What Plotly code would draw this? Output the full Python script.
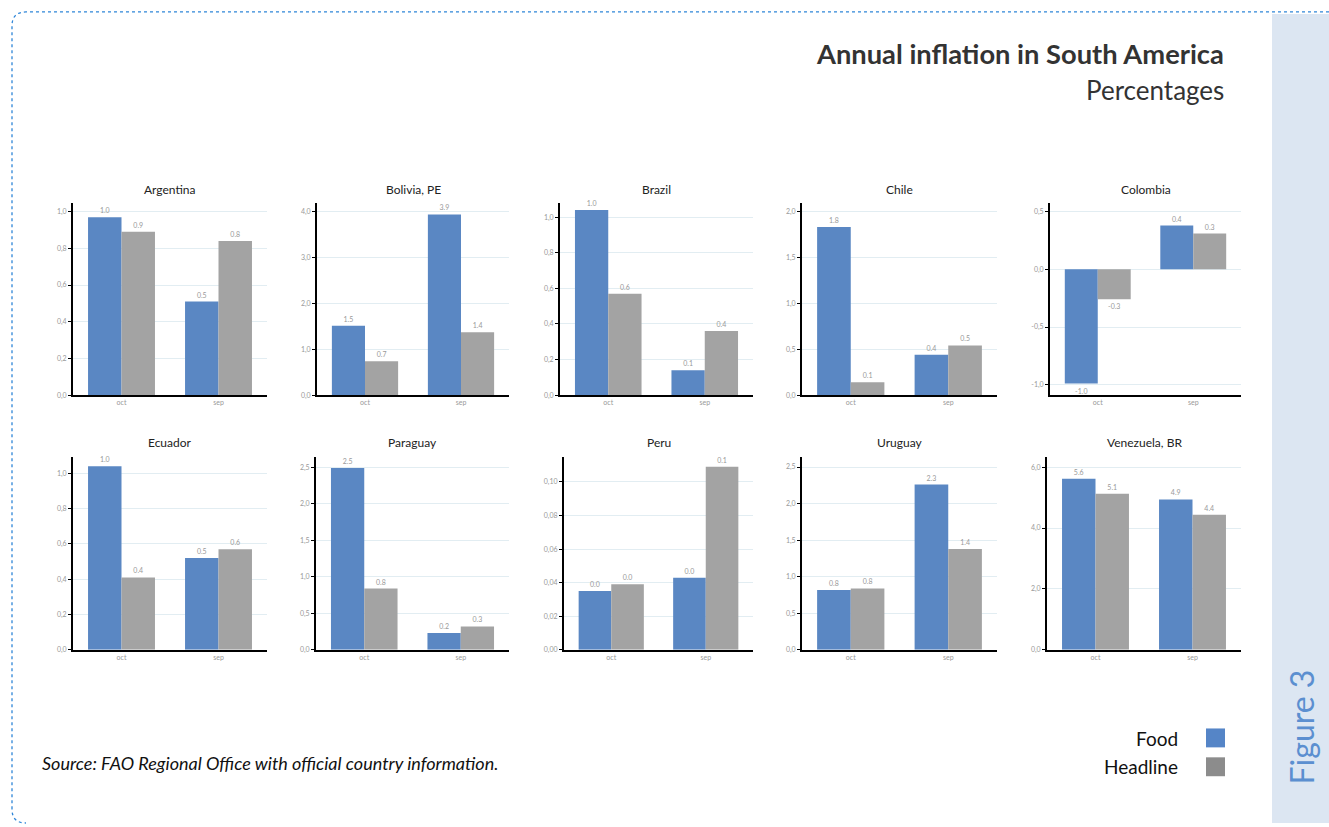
import plotly.graph_objects as go

W, H = 1329, 827

# ---------------- data ----------------
countries = ["Argentina", "Bolivia, PE", "Brazil", "Chile", "Colombia",
             "Ecuador", "Paraguay", "Peru", "Uruguay", "Venezuela, BR"]
months = ["oct", "sep"]
food = [
    [0.97, 0.51],
    [1.51, 3.94],
    [1.04, 0.14],
    [1.83, 0.44],
    [-0.99, 0.38],
    [1.04, 0.52],
    [2.49, 0.23],
    [0.035, 0.043],
    [0.82, 2.26],
    [5.62, 4.94],
]
headline = [
    [0.89, 0.84],
    [0.74, 1.37],
    [0.57, 0.36],
    [0.14, 0.54],
    [-0.26, 0.31],
    [0.41, 0.57],
    [0.84, 0.32],
    [0.039, 0.109],
    [0.84, 1.38],
    [5.13, 4.44],
]
# y-axis tick values per panel
tick_values = [
    [0.0, 0.2, 0.4, 0.6, 0.8, 1.0],
    [0.0, 1.0, 2.0, 3.0, 4.0],
    [0.0, 0.2, 0.4, 0.6, 0.8, 1.0],
    [0.0, 0.5, 1.0, 1.5, 2.0],
    [-1.0, -0.5, 0.0, 0.5],
    [0.0, 0.2, 0.4, 0.6, 0.8, 1.0],
    [0.0, 0.5, 1.0, 1.5, 2.0, 2.5],
    [0.0, 0.02, 0.04, 0.06, 0.08, 0.10],
    [0.0, 0.5, 1.0, 1.5, 2.0, 2.5],
    [0.0, 2.0, 4.0, 6.0],
]
tick_decimals = [1, 1, 1, 1, 1, 1, 1, 2, 1, 1]

# ---------------- layout settings (pixels) ----------------
y_ranges = [
    [0, 1.047], [0, 4.19], [0, 1.08], [0, 2.09], [-1.09, 0.575],
    [0, 1.094], [0, 2.645], [0, 0.115], [0, 2.64], [0, 6.34],
]
x_px = [
    (73, 267), (317, 509), (560, 753), (802, 997), (1050, 1241),
    (73, 267), (316, 509), (564, 753), (802, 997), (1047, 1241),
]
row_px = [(204, 397), (459, 653)]
title_y_px = [190, 445]

FOOD_C = "#5a87c3"
HEAD_C = "#a3a3a3"

fig = go.Figure()
layout_axes = {}
annotations = []

for i, name in enumerate(countries):
    r = i // 5
    xs = "x" if i == 0 else f"x{i+1}"
    ys = "y" if i == 0 else f"y{i+1}"
    xk = "xaxis" if i == 0 else f"xaxis{i+1}"
    yk = "yaxis" if i == 0 else f"yaxis{i+1}"
    fig.add_trace(go.Bar(
        x=months, y=food[i], name="Food", marker_color=FOOD_C,
        xaxis=xs, yaxis=ys, texttemplate="%{y:.1f}", textposition="outside",
        textfont=dict(size=7, color="#999999"), cliponaxis=False,
        showlegend=False, marker_line_width=0,
    ))
    fig.add_trace(go.Bar(
        x=months, y=headline[i], name="Headline", marker_color=HEAD_C,
        xaxis=xs, yaxis=ys, texttemplate="%{y:.1f}", textposition="outside",
        textfont=dict(size=7, color="#999999"), cliponaxis=False,
        showlegend=False, marker_line_width=0,
    ))
    x0, x1 = x_px[i]
    yt, yb = row_px[r]
    layout_axes[xk] = dict(
        domain=[x0 / W, x1 / W], anchor=ys, type="category",
        showline=True, linecolor="black", linewidth=2, showgrid=False,
        ticks="", tickfont=dict(size=7, color="#999999"), fixedrange=True,
        categoryorder="array", categoryarray=months,
    )
    tv = tick_values[i]
    dec = tick_decimals[i]
    tt = [f"{v:.{dec}f}".replace(".", ",") for v in tv]
    layout_axes[yk] = dict(
        domain=[1 - yb / H, 1 - yt / H], anchor=xs, range=y_ranges[i],
        tickvals=tv, ticktext=tt, showline=True, linecolor="black",
        linewidth=2, ticks="outside", ticklen=3, tickcolor="black",
        tickfont=dict(size=7, color="#999999"), gridcolor="#e2edf2",
        gridwidth=1, zeroline=False, fixedrange=True,
    )
    annotations.append(dict(
        text=name, x=(x0 + x1) / 2 / W, y=1 - title_y_px[r] / H,
        xref="paper", yref="paper", showarrow=False,
        font=dict(size=12, color="#222222", family="Lato"),
        xanchor="center", yanchor="middle",
    ))

# headings and notes
annotations += [
    dict(text="<b>Annual inflation in South America</b>", x=1226 / W, y=1 - 54 / H,
         xanchor="right", yanchor="middle", font=dict(size=27.3, color="#333333", family="Lato")),
    dict(text="Percentages", x=1226 / W, y=1 - 90 / H,
         xanchor="right", yanchor="middle", font=dict(size=26, color="#333333", family="Lato")),
    dict(text="<i>Source: FAO Regional Office with official country information.</i>",
         x=40 / W, y=1 - 767 / H, xanchor="left", yanchor="middle",
         font=dict(size=18, color="#111111", family="Lato")),
    dict(text="Food", x=1180 / W, y=1 - 742 / H, xanchor="right", yanchor="middle",
         font=dict(size=19, color="#111111", family="Lato")),
    dict(text="Headline", x=1180 / W, y=1 - 770 / H, xanchor="right", yanchor="middle",
         font=dict(size=19, color="#111111", family="Lato")),
    dict(text="Figure 3", x=1301 / W, y=1 - 731 / H, xanchor="center", yanchor="middle",
         textangle=-90, font=dict(size=32, color="#5b8fd0", family="Lato")),
]
for a in annotations:
    a.setdefault("xref", "paper")
    a.setdefault("yref", "paper")
    a.setdefault("showarrow", False)


def px(x, y):
    return f"{x / W:.5f},{1 - y / H:.5f}"


shapes = [
    dict(type="rect", xref="paper", yref="paper", x0=1272 / W, x1=1, y0=0, y1=1 - 14 / H,
         fillcolor="#dce6f2", line_width=0, layer="below"),
    dict(type="path", xref="paper", yref="paper",
         path=(f"M {px(1329, 12)} L {px(26, 12)} Q {px(12, 12)} {px(12, 26)} "
               f"L {px(12, 813)} Q {px(12, 827)} {px(26, 827)}"),
         line=dict(color="#2f86d8", width=1.3, dash="dot")),
    dict(type="rect", xref="paper", yref="paper", x0=1206 / W, x1=1225 / W,
         y0=1 - 751 / H, y1=1 - 732 / H, fillcolor="#5585c7", line_width=0),
    dict(type="rect", xref="paper", yref="paper", x0=1206 / W, x1=1225 / W,
         y0=1 - 780 / H, y1=1 - 761 / H, fillcolor="#8c8c8c", line_width=0),
]

fig.update_layout(
    width=W, height=H, margin=dict(l=0, r=0, t=0, b=0),
    paper_bgcolor="white", plot_bgcolor="white",
    barmode="group", bargap=0.31, bargroupgap=0,
    font=dict(family="Lato", color="#333333"),
    annotations=annotations, shapes=shapes, showlegend=False,
    **layout_axes,
)

fig.write_html("out.html")
